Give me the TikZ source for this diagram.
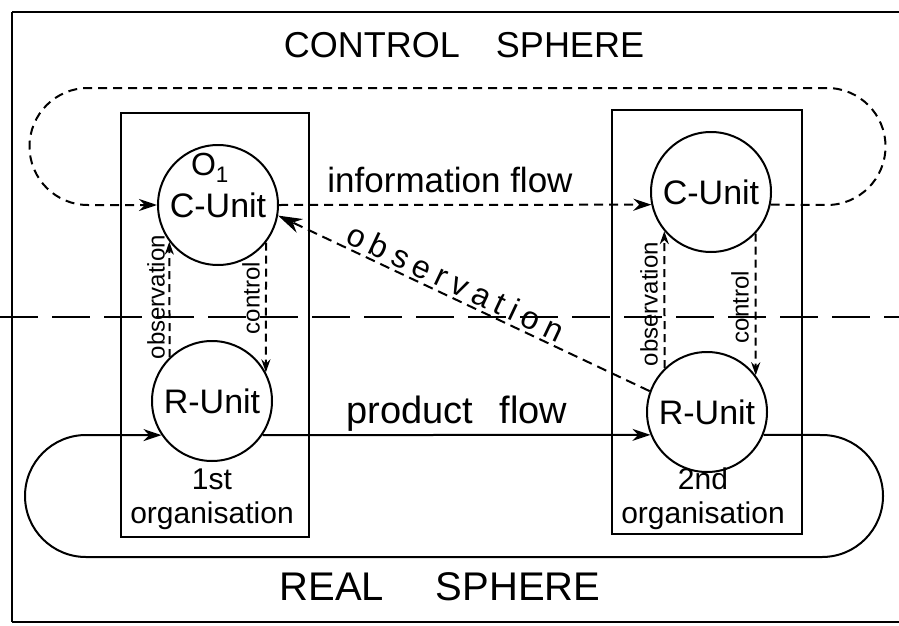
\documentclass[tikz,border=0pt]{standalone}
\usepackage{fontspec}
\setmainfont{Liberation Sans}
\usetikzlibrary{arrows.meta}
\begin{document}
\begin{tikzpicture}[x=1pt,y=1pt,line width=2pt,
  unit/.style={circle,draw,minimum size=120pt,inner sep=0pt,font=\fontsize{34}{40}\selectfont},
  org/.style={draw,line width=2.5pt,minimum width=188pt,minimum height=424pt},
  infoline/.style={dash pattern=on 9pt off 6pt},
  vline/.style={dash pattern=on 8pt off 5pt},
  divline/.style={dash pattern=on 38pt off 14pt},
  arr/.style={-{Stealth[length=18pt,width=12pt]}},
  smallarr/.style={-{Stealth[length=13pt,width=9pt]}},
  sidelabel/.style={rotate=90,font=\fontsize{24}{28}\selectfont},
  orglabel/.style={align=center,font=\fontsize{30}{34}\selectfont}]
\useasboundingbox (0,0) rectangle (899,-626);
\draw (12,-12) -- (899,-12);
\draw (12,-12) -- (12,-622);
\draw (12,-622) -- (899,-622);
\draw[divline] (0,-317) -- (899,-317);
\node[font=\fontsize{36}{43}\selectfont] (ctrl) at (464,-45) {CONTROL\quad SPHERE};
\node[font=\fontsize{40}{48}\selectfont] (real) at (440,-587) {REAL\hspace{1.3em}SPHERE};
\node[org] (org1) at (215,-325) {};
\node[org,minimum width=190pt] (org2) at (707,-322) {};
\node[unit] (cu1) at (218,-205) {C-Unit};
\node[font=\fontsize{32}{38}\selectfont] (o1) at (210,-168) {O\textsubscript{1}};
\node[unit] (cu2) at (711,-192) {C-Unit};
\node[unit] (ru1) at (212,-401) {R-Unit};
\node[unit] (ru2) at (707,-412) {R-Unit};
\node[font=\fontsize{35}{42}\selectfont] (info) at (450,-180) {information flow};
\node[font=\fontsize{38}{46}\selectfont] (prod) at (457,-414) {product\hspace{0.7em}flow};
\node[orglabel] (first) at (212,-499) {1st\\organisation};
\node[orglabel] (second) at (703,-499) {2nd\\organisation};
\node[sidelabel] (obs1) at (156,-297) {observation};
\node[sidelabel] (con1) at (251,-298) {control};
\node[sidelabel] (obs2) at (649,-304) {observation};
\node[sidelabel] (con2) at (740,-307) {control};
\draw[infoline,arr] (cu2.-12) -- (827,-205) arc[start angle=-90,end angle=90,radius=58.5]
  -- (88,-88) arc[start angle=90,end angle=270,radius=58.5] -- (cu1.west);
\draw[arr] (ru2.-22) -- (822,-435) arc[start angle=90,end angle=-90,radius=61]
  -- (86,-557) arc[start angle=270,end angle=90,radius=61] -- (ru1.214);
\path
  (cu1.east) edge [infoline,arr] (cu2.192)
  (ru1.-34) edge [arr] (ru2.202)
  (ru1.134) edge [vline,smallarr] (cu1.217)
  (cu1.-38) edge [vline,smallarr] (ru1.28)
  (ru2.134) edge [vline,smallarr] (cu2.220)
  (cu2.-43) edge [vline,smallarr] (ru2.37)
  (ru2.160) edge [dash pattern=on 10pt off 6pt,-{Stealth[length=24pt,width=15pt]}]
    node[sloped,above=3pt,pos=0.54,inner sep=0pt,font=\fontsize{32}{38}\selectfont\addfontfeature{LetterSpace=22}] {observation} (cu1.-10)
;
\end{tikzpicture}
\end{document}
